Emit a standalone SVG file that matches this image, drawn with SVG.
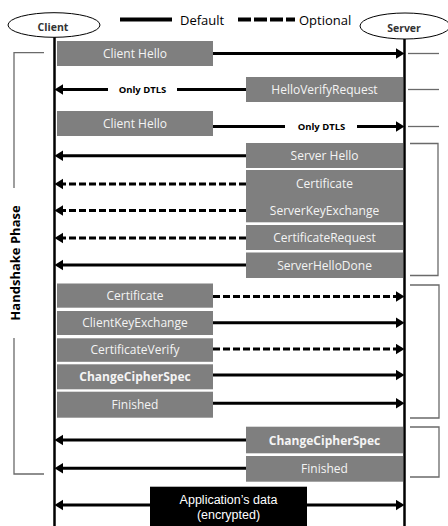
<svg xmlns="http://www.w3.org/2000/svg" width="448" height="526" viewBox="0 0 448 526">
<defs>
<style>
.box{fill:#7f7f7f}
.bt{font-family:"Open Sans","Liberation Sans",sans-serif;font-size:12px;fill:#f4f4f4;text-anchor:middle}
.bold{font-weight:bold}
.life{stroke:#000;stroke-width:2.5;fill:none}
.msg{stroke:#000;stroke-width:3;fill:none}
.opt{stroke-dasharray:7 3}
.brk{stroke:#6a6a6a;stroke-width:1.3;fill:none}
.lbl{font-family:"Open Sans","Liberation Sans",sans-serif;font-size:9.5px;font-weight:bold;fill:#000;text-anchor:middle}
.act{fill:#fff;stroke:#000;stroke-width:1}
.actt{font-family:"Open Sans","Liberation Sans",sans-serif;font-size:10.5px;font-weight:bold;fill:#333;text-anchor:middle}
.leg{font-family:"Open Sans","Liberation Sans",sans-serif;font-size:13px;fill:#000}
.app{font-family:"Liberation Sans",Arial,sans-serif;font-size:12.5px;fill:#fff;text-anchor:middle}
</style>
<marker id="ah" markerUnits="userSpaceOnUse" markerWidth="10" markerHeight="12" refX="2" refY="5.5" orient="auto-start-reverse" viewBox="0 0 10 12">
<path d="M0,0.3 L8.5,5.5 L0,10.7 z" fill="#000"/>
</marker>
</defs>
<rect width="448" height="526" fill="#fff"/>

<g id="legend">
<line x1="120" y1="19.5" x2="172" y2="19.5" stroke="#000" stroke-width="4"/>
<text class="leg" x="180" y="24.5">Default</text>
<line x1="238" y1="19.5" x2="295" y2="19.5" stroke="#000" stroke-width="4" stroke-dasharray="13 3"/>
<text class="leg" x="299" y="24.5">Optional</text>
</g>

<g id="client">
<ellipse class="act" cx="54" cy="25" rx="46" ry="12.3"/>
<text class="actt" x="53" y="31">Client</text>
<line class="life" x1="54.5" y1="37.3" x2="54.5" y2="526"/>
</g>
<g id="server">
<ellipse class="act" cx="405" cy="26" rx="45" ry="13"/>
<text class="actt" x="404" y="32">Server</text>
<line class="life" x1="404.5" y1="39" x2="404.5" y2="526"/>
</g>

<g id="handshake-phase">
<path class="brk" d="M44,52.7 H14 V188" stroke="#444"/>
<path class="brk" d="M14,338 V474 H44" stroke="#444"/>
<text transform="translate(19.5,263) rotate(-90)" font-family="Open Sans, Liberation Sans, sans-serif" font-size="13" font-weight="bold" text-anchor="middle">Handshake Phase</text>
</g>

<g id="right-brackets">
<line class="brk" x1="408" y1="53.5" x2="439" y2="53.5"/>
<line class="brk" x1="408" y1="89.5" x2="439" y2="89.5"/>
<line class="brk" x1="408" y1="126.5" x2="439" y2="126.5"/>
<path class="brk" d="M410,143.5 H438 V275.5 H410"/>
<path class="brk" d="M410,285 H439 V418 H410"/>
<path class="brk" d="M410,427 H439 V477 H410"/>
</g>

<g id="connectors">
<line class="msg" x1="213" y1="53.5" x2="398" y2="53.5" marker-end="url(#ah)"/>
<line class="msg" x1="246" y1="89.5" x2="61" y2="89.5" marker-end="url(#ah)"/>
<rect x="108" y="84" width="69" height="11" fill="#fff"/>
<text class="lbl" x="142.5" y="93">Only DTLS</text>
<line class="msg" x1="213" y1="126.5" x2="398" y2="126.5" marker-end="url(#ah)"/>
<rect x="285" y="121" width="72" height="11" fill="#fff"/>
<text class="lbl" x="321.5" y="130">Only DTLS</text>
<line class="msg" x1="246" y1="155.7" x2="61" y2="155.7" marker-end="url(#ah)"/>
<line class="msg opt" x1="246" y1="184" x2="61" y2="184" marker-end="url(#ah)"/>
<line class="msg opt" x1="246" y1="210.5" x2="61" y2="210.5" marker-end="url(#ah)"/>
<line class="msg opt" x1="246" y1="238" x2="61" y2="238" marker-end="url(#ah)"/>
<line class="msg" x1="246" y1="265" x2="61" y2="265" marker-end="url(#ah)"/>
<line class="msg opt" x1="213" y1="296.5" x2="398" y2="296.5" marker-end="url(#ah)"/>
<line class="msg" x1="213" y1="322.7" x2="398" y2="322.7" marker-end="url(#ah)"/>
<line class="msg opt" x1="213" y1="349" x2="398" y2="349" marker-end="url(#ah)"/>
<line class="msg" x1="213" y1="375" x2="398" y2="375" marker-end="url(#ah)"/>
<line class="msg" x1="213" y1="403.3" x2="398" y2="403.3" marker-end="url(#ah)"/>
<line class="msg" x1="246" y1="440" x2="61" y2="440" marker-end="url(#ah)"/>
<line class="msg" x1="246" y1="468.3" x2="61" y2="468.3" marker-end="url(#ah)"/>
<line class="msg" x1="61" y1="505" x2="398" y2="505" marker-start="url(#ah)" marker-end="url(#ah)"/>
</g>

<g id="m1"><rect class="box" x="57" y="41" width="156" height="25"/><text class="bt" x="135" y="58">Client Hello</text></g>
<g id="m2"><rect class="box" x="246" y="77" width="157" height="25"/><text class="bt" x="324.5" y="94">HelloVerifyRequest</text></g>
<g id="m3"><rect class="box" x="57" y="111" width="156" height="25"/><text class="bt" x="135" y="128">Client Hello</text></g>
<g id="m4"><rect class="box" x="246" y="143" width="157" height="25"/><text class="bt" x="324.5" y="160">Server Hello</text></g>
<g id="m5"><rect class="box" x="246" y="170" width="157" height="52.3"/><text class="bt" x="324.5" y="188.3">Certificate</text><text class="bt" x="324.5" y="215">ServerKeyExchange</text></g>
<g id="m6"><rect class="box" x="246" y="225" width="157" height="25"/><text class="bt" x="324.5" y="242">CertificateRequest</text></g>
<g id="m7"><rect class="box" x="246" y="252.5" width="157" height="25.5"/><text class="bt" x="324.5" y="269.5">ServerHelloDone</text></g>
<g id="m8"><rect class="box" x="57" y="283.5" width="156" height="24.2"/><text class="bt" x="135" y="300">Certificate</text></g>
<g id="m9"><rect class="box" x="57" y="311" width="156" height="24"/><text class="bt" x="135" y="327.3">ClientKeyExchange</text></g>
<g id="m10"><rect class="box" x="57" y="338.3" width="156" height="23.5"/><text class="bt" x="135" y="354.3">CertificateVerify</text></g>
<g id="m11"><rect class="box" x="57" y="364.3" width="156" height="25"/><text class="bt bold" x="135" y="381">ChangeCipherSpec</text></g>
<g id="m12"><rect class="box" x="57" y="391.7" width="156" height="26"/><text class="bt" x="135" y="409">Finished</text></g>
<g id="m13"><rect class="box" x="246" y="426.7" width="157" height="26.6"/><text class="bt bold" x="324.5" y="444.5">ChangeCipherSpec</text></g>
<g id="m14"><rect class="box" x="246" y="456" width="157" height="25.7"/><text class="bt" x="324.5" y="473">Finished</text></g>
<g id="appdata"><rect x="150" y="486.7" width="157" height="40" fill="#000"/><text class="app" x="228.5" y="504">Application’s data</text><text class="app" x="228.5" y="518.7">(encrypted)</text></g>
</svg>
